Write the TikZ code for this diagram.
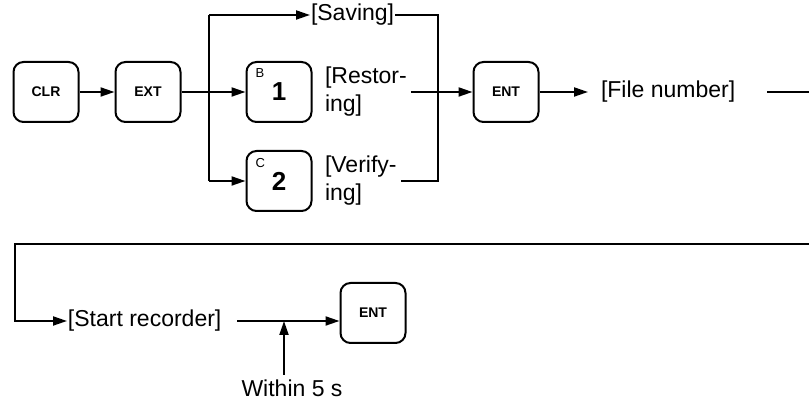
\documentclass[tikz,border=0pt]{standalone}
\usepackage{fontspec}
\setmainfont{Liberation Sans}
\usetikzlibrary{arrows.meta}

\tikzset{
  keybox/.style={draw,line width=1pt,rounded corners=5pt,minimum width=32.5pt,minimum height=30pt,inner sep=0pt,font=\bfseries\fontsize{7}{7}\selectfont},
  keynum/.style={font=\bfseries\fontsize{13}{13}\selectfont},
  keysup/.style={anchor=north west,inner sep=0pt,font=\fontsize{6.5}{6.5}\selectfont},
  msg/.style={anchor=west,inner sep=1.5pt,align=left,font=\fontsize{11.5}{14}\selectfont},
}

\begin{document}
\begin{tikzpicture}[x=0.5pt,y=-0.5pt,line width=1pt,line cap=butt,line join=miter,>={Triangle[length=7pt,width=4.5pt]}]
  \useasboundingbox (0,0) rectangle (809,410);
  % first row
  \node[keybox] (clr) at (46,92) {CLR};
  \node[keybox] (ext) at (148,92) {EXT};
  \node[keybox] (key1) at (279,92) {};
  \node[keynum] (key1num) at (key1.center) {1};
  \node[keysup] (key1sup) at ([shift={(9,7)}]key1.north west) {B};
  \node[keybox] (key2) at (279,181) {};
  \node[keynum] (key2num) at (key2.center) {2};
  \node[keysup] (key2sup) at ([shift={(9,7)}]key2.north west) {C};
  \node[msg,inner sep=0pt] (saving) at (310,15) {[Saving]};
  \node[msg] (restoring) at (321,92) {[Restor-\\ing]};
  \node[msg] (verifying) at (321,181) {[Verify-\\ing]};
  \node[keybox] (ent1) at (506,92) {ENT};
  \node[msg] (filenum) at (597,92) {[File number]};
  \coordinate (br) at (209,92);
  \coordinate (mg) at (438,92);
  \coordinate (rt1) at (809,92);
  \draw[->] (clr) -- (ext);
  \draw[->] (ext) -- (key1);
  \draw[->] (br |- saving.west) -- (saving.west);
  \draw (br |- saving.west) -- (br |- key2.west);
  \draw[->] (br |- key2.west) -- (key2.west);
  \draw (saving.east) -- (mg |- saving.east) -- (mg |- verifying.east) -- (verifying.east);
  \draw[->] (restoring.east) -- (ent1.west);
  \draw[->,shorten >=4.5pt] (ent1.east) -- (filenum.west);
  \draw[shorten <=14pt] (filenum.east) -- (rt1);
  % second row
  \coordinate (rt2) at (809,244);
  \coordinate (lt) at (15,244);
  \node[msg,inner sep=0pt] (startrec) at (67,321) {[Start recorder]};
  \node[keybox] (ent2) at (373,313) {ENT};
  \coordinate (jn) at (284,321);
  \node[font=\fontsize{11.5}{14}\selectfont,inner sep=2pt] (within) at (292,388) {Within 5 s};
  \draw[->] (rt2) -- (lt) -- (lt |- startrec.west) -- (startrec.west);
  \draw[->,shorten <=7.5pt] (startrec.east) -- (startrec.east -| ent2.west);
  \draw[->] (jn |- within.north) -- (jn);
\end{tikzpicture}
\end{document}
